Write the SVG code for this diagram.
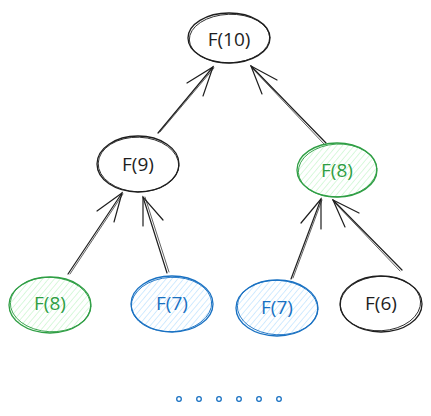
<svg xmlns="http://www.w3.org/2000/svg" width="431" height="416" viewBox="0 0 431 416">
  <defs>
    <pattern id="hatchGreen" width="4.5" height="4.5" patternUnits="userSpaceOnUse" patternTransform="rotate(40)">
      <line x1="0" y1="0" x2="0" y2="4.5" stroke="#b2f2bb" stroke-width="1"/>
    </pattern>
    <pattern id="hatchBlue" width="4.5" height="4.5" patternUnits="userSpaceOnUse" patternTransform="rotate(40)">
      <line x1="0" y1="0" x2="0" y2="4.5" stroke="#a5d8ff" stroke-width="1"/>
    </pattern>
  </defs>
  <style>
    .lbl { font-family: "Open Sans", "Liberation Sans", sans-serif; font-size: 19px; text-anchor: middle; dominant-baseline: central; }
    .black .e { fill: none; stroke: #1e1e1e; }
    .black .lbl { fill: #1e1e1e; }
    .green .e { stroke: #2f9e44; }
    .green .lbl { fill: #2f9e44; }
    .blue .e { stroke: #1971c2; }
    .blue .lbl { fill: #1971c2; }
    .e { stroke-width: 1.3; stroke-linecap: round; }
    .e2 { fill: none; stroke-width: 0.9; }
    .conn line, .conn path { stroke: #1e1e1e; stroke-width: 1.2; fill: none; stroke-linecap: round; }
    .conn .thin { stroke-width: 0.7; }
    .dot { fill: none; stroke: #1971c2; stroke-width: 1.3; }
  </style>

  <g id="connectors" class="conn">
    <!-- F(9) -> F(10) -->
    <line x1="158" y1="133" x2="213" y2="67"/>
    <line class="thin" x1="160" y1="132" x2="214" y2="68"/>
    <path d="M187 83 L213 67 L203 96"/>
    <!-- F(8) -> F(10) -->
    <line x1="326" y1="143" x2="251" y2="66"/>
    <line class="thin" x1="324" y1="144" x2="252" y2="68"/>
    <path d="M277 80 L251 66 L262 94"/>
    <!-- F(8) -> F(9) -->
    <line x1="68" y1="274" x2="122" y2="193"/>
    <line class="thin" x1="70" y1="274" x2="123" y2="194"/>
    <path d="M97 211 L122 193 L114 222"/>
    <!-- F(7) -> F(9) -->
    <line x1="167" y1="273" x2="143" y2="197"/>
    <line class="thin" x1="169" y1="272" x2="145" y2="197"/>
    <path d="M143 226 L143 197 L163 220"/>
    <!-- F(7) -> F(8) -->
    <line x1="291" y1="279" x2="321" y2="199"/>
    <line class="thin" x1="293" y1="278" x2="322" y2="200"/>
    <path d="M301 223 L321 199 L321 229"/>
    <!-- F(6) -> F(8) -->
    <line x1="402" y1="270" x2="333" y2="200"/>
    <line class="thin" x1="400" y1="271" x2="334" y2="202"/>
    <path d="M359 213 L333 200 L345 227"/>
  </g>

  <g id="node-f10" class="black">
    <ellipse class="e" cx="229" cy="38" rx="41" ry="25"/>
    <ellipse class="e e2" cx="229.5" cy="38.6" rx="40.2" ry="24.3" transform="rotate(-2 229 38)" stroke="#1e1e1e"/>
    <text class="lbl" x="229" y="39">F(10)</text>
  </g>

  <g id="node-f9" class="black">
    <ellipse class="e" cx="138" cy="164" rx="41" ry="28"/>
    <ellipse class="e e2" cx="138.5" cy="164.5" rx="40.3" ry="27.3" transform="rotate(2 138 164)" stroke="#1e1e1e"/>
    <text class="lbl" x="138" y="164">F(9)</text>
  </g>

  <g id="node-f8-top" class="green">
    <ellipse class="e" cx="337" cy="170" rx="40" ry="27" fill="url(#hatchGreen)"/>
    <ellipse class="e e2" cx="337.5" cy="170.5" rx="39.2" ry="26.4" transform="rotate(-3 337 170)"/>
    <text class="lbl" x="337" y="170">F(8)</text>
  </g>

  <g id="node-f8-bottom" class="green">
    <ellipse class="e" cx="50" cy="305" rx="41" ry="28" fill="url(#hatchGreen)"/>
    <ellipse class="e e2" cx="50.5" cy="304.5" rx="40.2" ry="27.2" transform="rotate(3 50 305)"/>
    <text class="lbl" x="50" y="303">F(8)</text>
  </g>

  <g id="node-f7-left" class="blue">
    <ellipse class="e" cx="172" cy="304" rx="41" ry="28" fill="url(#hatchBlue)"/>
    <ellipse class="e e2" cx="171.5" cy="304.5" rx="40.2" ry="27.2" transform="rotate(-3 172 304)"/>
    <text class="lbl" x="172" y="303">F(7)</text>
  </g>

  <g id="node-f7-right" class="blue">
    <ellipse class="e" cx="277" cy="308" rx="41" ry="28" fill="url(#hatchBlue)"/>
    <ellipse class="e e2" cx="277.5" cy="307.5" rx="40.2" ry="27.2" transform="rotate(3 277 308)"/>
    <text class="lbl" x="277" y="307">F(7)</text>
  </g>

  <g id="node-f6" class="black">
    <ellipse class="e" cx="381" cy="304" rx="41" ry="28"/>
    <ellipse class="e e2" cx="380.5" cy="303.5" rx="40.2" ry="27.2" transform="rotate(-3 381 304)" stroke="#1e1e1e"/>
    <text class="lbl" x="381" y="303">F(6)</text>
  </g>

  <g id="ellipsis">
    <circle class="dot" cx="179" cy="399" r="2.3"/>
    <circle class="dot" cx="199" cy="399" r="2.3"/>
    <circle class="dot" cx="219" cy="399" r="2.3"/>
    <circle class="dot" cx="239" cy="399" r="2.3"/>
    <circle class="dot" cx="259" cy="399" r="2.3"/>
    <circle class="dot" cx="279" cy="399" r="2.3"/>
  </g>
</svg>
